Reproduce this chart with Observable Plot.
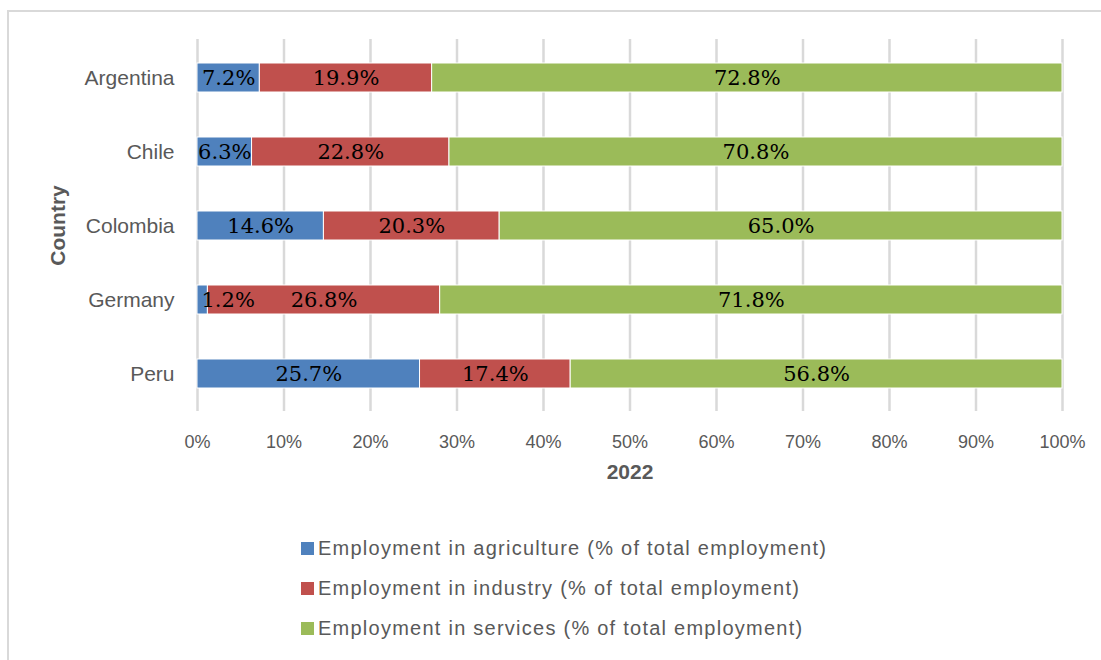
<!DOCTYPE html>
<html>
<head>
<meta charset="utf-8">
<script src="https://cdn.jsdelivr.net/npm/d3@7"></script>
<script src="https://cdn.jsdelivr.net/npm/@observablehq/plot@0.6"></script>
<style>
  body { margin: 0; background: #fff; width: 1101px; height: 660px; overflow: hidden; position: relative; font-family: "Liberation Sans", Arial, sans-serif; }
  #frame { position: absolute; left: 7px; top: 10px; width: 1200px; height: 800px; border: 2px solid #d9d9d9; box-sizing: border-box; }
  #chart { position: absolute; left: 0; top: 0; }
  #legend { position: absolute; left: 301px; top: 528px; }
  .item { display: flex; align-items: center; height: 40px; font-size: 20px; letter-spacing: 1.25px; color: #595959; }
  .sw { width: 13px; height: 13px; margin-right: 4px; }
</style>
</head>
<body>
<div id="frame"></div>
<div id="chart"></div>
<div id="legend"></div>
<script>
const countries = ["Argentina", "Chile", "Colombia", "Germany", "Peru"];
const seriesNames = [
  "Employment in agriculture (% of total employment)",
  "Employment in industry (% of total employment)",
  "Employment in services (% of total employment)"
];
const agriculture = [7.2, 6.3, 14.6, 1.2, 25.7];
const industry = [19.9, 22.8, 20.3, 26.8, 17.4];
const services = [72.8, 70.8, 65.0, 71.8, 56.8];
const colors = ["#4F81BD", "#C0504D", "#9BBB59"];
const xTicks = [0, 10, 20, 30, 40, 50, 60, 70, 80, 90, 100];

const seriesValues = [agriculture, industry, services];
const rows = [];
countries.forEach((c, i) => {
  const total = agriculture[i] + industry[i] + services[i];
  let acc = 0;
  seriesValues.forEach((vals, s) => {
    const v = vals[i];
    const x1 = acc / total * 100;
    const x2 = (acc + v) / total * 100;
    rows.push({country: c, series: seriesNames[s], value: v, x1, x2, mid: (x1 + x2) / 2, small: (x2 - x1) < 4});
    acc += v;
  });
});

const W = 1101, H = 500;
const chart = Plot.plot({
  width: W,
  height: H,
  marginLeft: 197,
  marginRight: 39,
  marginTop: 39,
  marginBottom: 89,
  style: {fontFamily: "Liberation Sans, Arial, sans-serif", background: "transparent"},
  x: {domain: [0, 100], ticks: xTicks, tickFormat: d => d + "%", label: null},
  y: {domain: countries, paddingInner: 0.61, paddingOuter: 0.3, label: null},
  color: {domain: seriesNames, range: colors},
  marks: [
    Plot.ruleX(xTicks, {x: d => d, stroke: "#d9d9d9", strokeWidth: 2.5}),
    Plot.barX(rows, {y: "country", x1: "x1", x2: "x2", fill: "series", stroke: "#fff", strokeWidth: 1}),
    Plot.text(rows.filter(d => !d.small), {y: "country", x: "mid", text: d => d.value.toFixed(1) + "%", fill: "#000", fontSize: 21, fontFamily: "DejaVu Serif, Liberation Serif, serif", textAnchor: "middle"}),
    Plot.text(rows.filter(d => d.small), {y: "country", x: "x1", text: d => d.value.toFixed(1) + "%", fill: "#000", fontSize: 21, fontFamily: "DejaVu Serif, Liberation Serif, serif", textAnchor: "start", dx: 4}),
    Plot.axisX({ticks: xTicks, tickFormat: d => d + "%", tickSize: 0, tickPadding: 24, fontSize: 18, fill: "#595959", label: null, style: {letterSpacing: "0.6px"}}),
    Plot.axisY({tickSize: 0, tickPadding: 23, fontSize: 21, fill: "#595959", label: null, style: {letterSpacing: "1.7px"}}),
    Plot.text(["2022"], {frameAnchor: "bottom", dy: 67, text: d => d, fontSize: 21, fontWeight: "bold", fill: "#595959", style: {letterSpacing: "1px"}}),
    Plot.text(["Country"], {frameAnchor: "left", dx: -139, rotate: -90, textAnchor: "middle", text: d => d, fontSize: 21, fontWeight: "bold", fill: "#595959", style: {letterSpacing: "1.2px"}})
  ]
});
document.getElementById("chart").appendChild(chart);

const legend = document.getElementById("legend");
seriesNames.forEach((n, i) => {
  const item = document.createElement("div");
  item.className = "item";
  const sw = document.createElement("span");
  sw.className = "sw";
  sw.style.background = colors[i];
  const t = document.createElement("span");
  t.textContent = n;
  item.appendChild(sw);
  item.appendChild(t);
  legend.appendChild(item);
});
</script>
</body>
</html>
